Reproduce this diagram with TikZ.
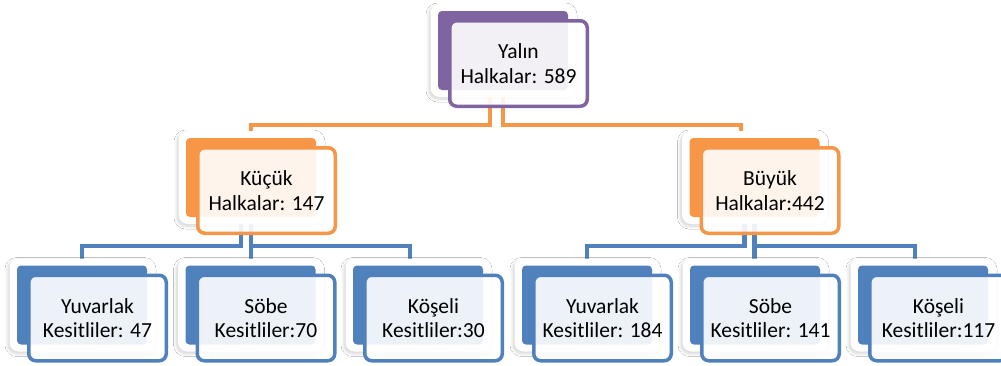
\documentclass[tikz,border=0pt]{standalone}
\usepackage{fontspec}
\setmainfont{Carlito}
\usetikzlibrary{shadows.blur,backgrounds}
\definecolor{mor}{HTML}{8064A2}
\definecolor{turuncu}{HTML}{F79646}
\definecolor{mavi}{HTML}{4F81BD}
\begin{document}
\begin{tikzpicture}[x=1pt,y=-1pt,
		cerceve/.style={fill=white,rounded corners=9pt,minimum width=145pt,minimum height=93pt,
			blur shadow={shadow xshift=-1.5pt,shadow yshift=-2pt,shadow blur radius=3pt,
				shadow blur steps=10,shadow opacity=18}},
		arkakutu/.style={fill=#1,rounded corners=4pt,minimum width=130pt,minimum height=79pt},
		onkutu/.style={draw=#1,line width=3.5pt,fill=white,fill opacity=0.9,text opacity=1,
			rounded corners=7pt,minimum width=137.5pt,minimum height=85.5pt,align=center,
			font=\fontsize{21.5pt}{24.5pt}\selectfont},
		baglanti/.style={draw=#1,line width=4.5pt}]
		\useasboundingbox (0,0) rectangle (1001,365);
		% Kök
		\node[cerceve] (yalin-c) at (503,50.5) {};
		\node[arkakutu=mor] (yalin) at (503,50.5) {};
		\node[onkutu=mor] (yalin-o) at ([xshift=15.5pt,yshift=-13pt]yalin.center) {Yalın\\Halkalar: 589};
		% Küçük halkalar
		\node[cerceve] (kucuk-c) at (251,177.5) {};
		\node[arkakutu=turuncu] (kucuk) at (251,177.5) {};
		\node[onkutu=turuncu] (kucuk-o) at ([xshift=15.5pt,yshift=-13pt]kucuk.center) {Küçük\\Halkalar: 147};
		% Büyük halkalar
		\node[cerceve] (buyuk-c) at (754.5,177.5) {};
		\node[arkakutu=turuncu] (buyuk) at (754.5,177.5) {};
		\node[onkutu=turuncu] (buyuk-o) at ([xshift=15.5pt,yshift=-13pt]buyuk.center) {Büyük\\Halkalar:442};
		% Kesitler (küçük)
		\node[cerceve] (yuvarlak1-c) at (82,305) {};
		\node[arkakutu=mavi] (yuvarlak1) at (82,305) {};
		\node[onkutu=mavi] (yuvarlak1-o) at ([xshift=15.5pt,yshift=-13pt]yuvarlak1.center) {Yuvarlak\\Kesitliler: 47};
		\node[cerceve] (sobe1-c) at (250.5,305) {};
		\node[arkakutu=mavi] (sobe1) at (250.5,305) {};
		\node[onkutu=mavi] (sobe1-o) at ([xshift=15.5pt,yshift=-13pt]sobe1.center) {Söbe\\Kesitliler:70};
		\node[cerceve] (koseli1-c) at (418,305) {};
		\node[arkakutu=mavi] (koseli1) at (418,305) {};
		\node[onkutu=mavi] (koseli1-o) at ([xshift=15.5pt,yshift=-13pt]koseli1.center) {Köşeli\\Kesitliler:30};
		% Kesitler (büyük)
		\node[cerceve] (yuvarlak2-c) at (587,305) {};
		\node[arkakutu=mavi] (yuvarlak2) at (587,305) {};
		\node[onkutu=mavi] (yuvarlak2-o) at ([xshift=15.5pt,yshift=-13pt]yuvarlak2.center) {Yuvarlak\\Kesitliler: 184};
		\node[cerceve] (sobe2-c) at (755,305) {};
		\node[arkakutu=mavi] (sobe2) at (755,305) {};
		\node[onkutu=mavi] (sobe2-o) at ([xshift=15.5pt,yshift=-13pt]sobe2.center) {Söbe\\Kesitliler: 141};
		\node[cerceve] (koseli2-c) at (923,305) {};
		\node[arkakutu=mavi] (koseli2) at (923,305) {};
		\node[onkutu=mavi] (koseli2-o) at ([xshift=15.5pt,yshift=-13pt]koseli2.center) {Köşeli\\Kesitliler:117};
		% Bağlantılar
		\begin{pgfonlayer}{background}
			\fill[white] (0,0) rectangle (1001,365);
			\coordinate (ust) at (0,125);
			\coordinate (alt) at (0,246);
			\coordinate (yk) at ([xshift=-13pt]yalin.center);
			\coordinate (yb) at ([xshift=-13.5pt]buyuk.north);
			\draw[baglanti=turuncu] (yk) |- (kucuk |- ust) -- (kucuk.north);
			\draw[baglanti=turuncu] (yalin.center) |- (yb |- ust) -- (yb);
			\coordinate (ky) at ([xshift=-10pt]kucuk.center);
			\coordinate (kk) at ([xshift=-8pt]koseli1.north);
			\draw[baglanti=mavi] (ky) |- (yuvarlak1 |- alt) -- (yuvarlak1.north);
			\draw[baglanti=mavi] (kucuk.center) -- (kucuk.center |- sobe1.north);
			\draw[baglanti=mavi] (kucuk.center) |- (kk |- alt) -- (kk);
			\coordinate (by) at ([xshift=-10pt]buyuk.center);
			\coordinate (bk) at ([xshift=-8pt]koseli2.north);
			\draw[baglanti=mavi] (by) |- (yuvarlak2 |- alt) -- (yuvarlak2.north);
			\draw[baglanti=mavi] (buyuk.center) -- (buyuk.center |- sobe2.north);
			\draw[baglanti=mavi] (buyuk.center) |- (bk |- alt) -- (bk);
		\end{pgfonlayer}
	\end{tikzpicture}
\end{document}
